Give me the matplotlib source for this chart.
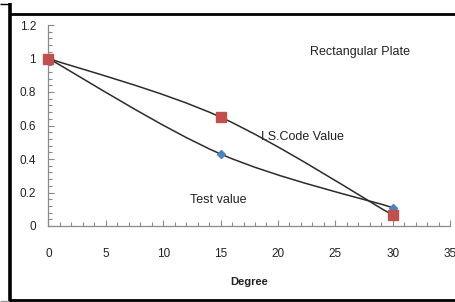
import numpy as np
import matplotlib; matplotlib.use("Agg")
import matplotlib.pyplot as plt
from matplotlib.path import Path
from matplotlib.patches import PathPatch
from matplotlib.lines import Line2D

# ---- data ----
degree = [0, 15, 30]
is_code = [1.0, 0.65, 0.065]
test_val = [1.0, 0.43, 0.11]
x_ticks = [0, 5, 10, 15, 20, 25, 30, 35]
y_ticks = [0, 0.2, 0.4, 0.6, 0.8, 1.0]
y_labels = ["0", "0.2", "0.4", "0.6", "0.8", "1", "1.2"]

plt.rcParams["font.family"] = ["Liberation Sans", "DejaVu Sans"]
W, H = 456, 302
fig = plt.figure(figsize=(W / 100, H / 100), dpi=100)
ax = fig.add_axes([48.5 / W, 76 / H, (450 - 48.5) / W, (226 - 25) / H])


def smooth_path(xs, ys):
    """Excel-like smoothed line: Catmull-Rom segments as cubic Beziers."""
    p = np.column_stack([xs, ys]).astype(float)
    ext = np.vstack([p[0], p, p[-1]])
    verts, codes = [tuple(p[0])], [Path.MOVETO]
    for i in range(len(p) - 1):
        p0, p1, p2, p3 = ext[i], ext[i + 1], ext[i + 2], ext[i + 3]
        c1 = p1 + (p2 - p0) / 6
        c2 = p2 - (p3 - p1) / 6
        verts += [tuple(c1), tuple(c2), tuple(p2)]
        codes += [Path.CURVE4] * 3
    return Path(verts, codes)


for ys in (test_val, is_code):
    ax.add_patch(PathPatch(smooth_path(degree, ys), fill=False,
                           ec="#2b2b2b", lw=1.1, zorder=2))

ax.plot(degree, test_val, ls="none", marker="D", ms=4.5, color="#4F81BD",
        mec="#4F81BD", zorder=3, clip_on=False)
ax.plot(degree, is_code, ls="none", marker="s", ms=6.5, color="#C0504D",
        mec="#C0504D", zorder=4, clip_on=False)

ax.set_xlim(0, 35)
ax.set_ylim(0, 1.2)
ax.set_xticks(x_ticks)
ax.set_xticks(np.arange(0, 36, 1), minor=True)
ax.set_yticks(y_ticks + [1.2])
ax.set_yticklabels(y_labels)
ax.set_yticks(np.arange(0, 1.21, 0.04), minor=True)

for s in ("top", "right"):
    ax.spines[s].set_visible(False)
for s in ("left", "bottom"):
    ax.spines[s].set_color("#8a8a8a")
    ax.spines[s].set_linewidth(0.9)

ax.tick_params(which="both", direction="in", color="#8a8a8a", width=0.8,
               labelsize=8.5, labelcolor="#222222")
ax.tick_params(which="major", length=4)
ax.tick_params(which="minor", length=3)
ax.tick_params(axis="x", which="major", pad=16)
ax.tick_params(axis="y", which="major", pad=9)

ax.set_xlabel("Degree", fontsize=8, fontweight="bold", color="#222222", labelpad=12)

ax.text(22.8, 1.04, "Rectangular Plate", fontsize=9, color="#222222", ha="left", va="center")
ax.text(18.5, 0.53, "I.S.Code Value", fontsize=9, color="#222222", ha="left", va="center")
ax.text(12.3, 0.155, "Test value", fontsize=9, color="#222222", ha="left", va="center")

# ---- outer frame (figure pixels, y from top) ----
def px_line(x0, y0, x1, y1, lw, color="black"):
    fig.add_artist(Line2D([x0 / W, x1 / W], [1 - y0 / H, 1 - y1 / H],
                          transform=fig.transFigure, lw=lw, color=color,
                          solid_capstyle="butt"))

px_line(0, 3.5, 10, 3.5, 1.0)
px_line(10.5, 3, 10.5, 302, 2.6)
px_line(9.5, 13.5, 456, 13.5, 2.0)
px_line(9.5, 300, 456, 300, 2.0)
px_line(0, 301, 9, 301, 1.0, "#999999")

fig.savefig("out.png", dpi=100)
